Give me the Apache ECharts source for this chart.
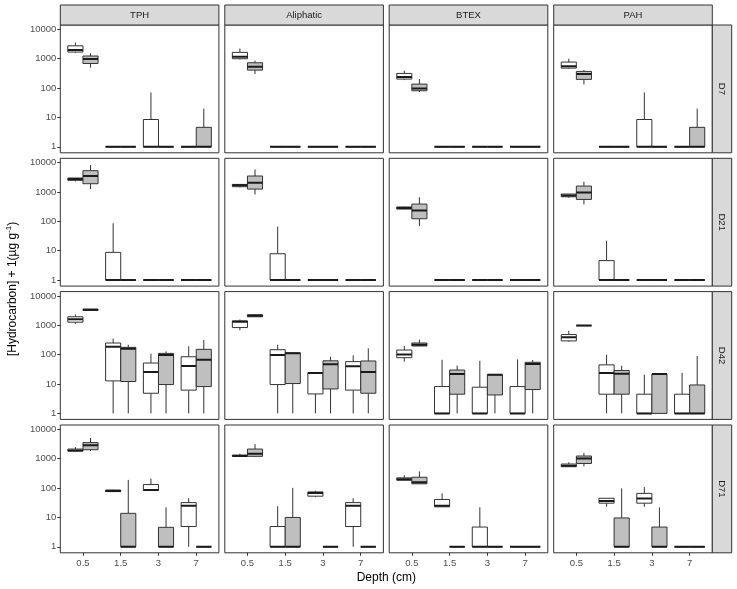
<!DOCTYPE html>
<html>
<head>
<meta charset="utf-8">
<script src="https://cdn.jsdelivr.net/npm/echarts@6/dist/echarts.min.js"></script>
<style>
  html, body { margin: 0; padding: 0; background: #fff; }
  #chart { width: 737px; height: 589px; }
</style>
</head>
<body>
<div id="chart"></div>
<script>
(() => {
  "use strict";

  const depths = ["0.5", "1.5", "3", "7"];
  const fractions = ["TPH", "Aliphatic", "BTEX", "PAH"];
  const days = ["D7", "D21", "D42", "D71"];
  const yTicks = [1, 10, 100, 1000, 10000];

  // each row: [min, q1, median, q3, max] for depth 0.5, 1.5, 3, 7
  const flat = [1, 1, 1, 1, 1];

  const tphD7White = [[1600, 1690, 1990, 2760, 3600], flat, [1, 1, 1, 8.5, 71], flat];
  const tphD7Grey = [[500, 690, 980, 1240, 1520], flat, flat, [1, 1, 1, 4.6, 20]];
  const aliD7White = [[950, 1000, 1170, 1650, 2240], flat, flat, flat];
  const aliD7Grey = [[300, 410, 530, 730, 860], flat, flat, flat];
  const btexD7White = [[187, 203, 237, 316, 390], flat, flat, flat];
  const btexD7Grey = [[73, 81, 97, 137, 203], flat, flat, flat];
  const pahD7White = [[460, 480, 560, 770, 1000], flat, [1, 1, 1, 8.5, 71], flat];
  const pahD7Grey = [[133, 198, 300, 370, 410], flat, flat, [1, 1, 1, 4.6, 20]];

  const tphD21White = [[2300, 2500, 2760, 3000, 3000], [1, 1, 1, 8.8, 86], flat, flat];
  const tphD21Grey = [[1260, 1920, 3520, 5350, 8300], flat, flat, flat];
  const aliD21White = [[1440, 1520, 1700, 1820, 1820], [1, 1, 1, 7.9, 66], flat, flat];
  const aliD21Grey = [[830, 1260, 2080, 3520, 5900], flat, flat, flat];
  const btexD21White = [[260, 263, 284, 310, 315], flat, flat, flat];
  const btexD21Grey = [[69, 123, 237, 390, 660], flat, flat, flat];
  const pahD21White = [[640, 690, 770, 855, 870], [1, 1, 1, 4.6, 22], flat, flat];
  const pahD21Grey = [[380, 560, 970, 1600, 2250], flat, flat, flat];

  const tphD42White = [[1130, 1280, 1620, 1960, 2350], [1, 12.8, 188, 250, 355], [1, 4.85, 25.5, 52, 108], [1, 6.2, 41, 85, 194]];
  const tphD42Grey = [[3220, 3220, 3400, 3550, 3600], [1, 12.2, 160, 178, 220], [1, 9.6, 97, 111, 130], [1, 8.2, 67, 152, 318]];
  const aliD42White = [[680, 840, 1320, 1420, 1580], [1, 9.6, 97, 148, 220], [1, 4.6, 24, 24, 24], [1, 6.2, 40, 58, 95]];
  const aliD42Grey = [[1960, 1960, 2130, 2300, 2410], [1, 10.4, 113, 115, 117], [1, 6.8, 47, 62, 85], [1, 4.85, 25.5, 61, 165]];
  const btexD42White = [[58, 79, 102, 144, 198], [1, 1, 1, 8.2, 67], [1, 1, 1, 7.8, 62], [1, 1, 1, 8.2, 69]];
  const btexD42Grey = [[198, 198, 220, 250, 325], [1, 4.5, 21.8, 30, 43], [1, 4.25, 20.6, 20.6, 20.6], [1, 6.5, 48, 55, 66]];
  const pahD42White = [[280, 295, 390, 485, 650], [1, 4.5, 24, 45, 100], [1, 1, 1, 4.5, 20.6], [1, 1, 1, 4.5, 24]];
  const pahD42Grey = [[960, 970, 980, 990, 1000], [1, 4.5, 22.3, 29, 42], [1, 1, 21.8, 21.8, 21.8], [1, 1, 1, 9.3, 90]];

  const tphD71White = [[1820, 1820, 1910, 2140, 2500], [73, 76, 79, 86, 88], [83, 83, 86, 132, 210], [1, 4.9, 25, 32, 45]];
  const tphD71Grey = [[1820, 2030, 2900, 3550, 5100], [1, 1, 1, 13.8, 190], [1, 1, 1, 4.6, 22], flat];
  const aliD71White = [[1210, 1210, 1240, 1340, 1490], [1, 1, 1, 4.9, 24], [49, 53, 68, 74, 81], [1, 4.9, 25, 32, 45]];
  const aliD71Grey = [[1150, 1210, 1490, 2140, 3150], [1, 1, 1, 10, 102], flat, flat];
  const btexD71White = [[185, 185, 200, 223, 274], [23, 23, 25, 41, 66], [1, 1, 1, 4.7, 22], flat];
  const btexD71Grey = [[140, 140, 158, 234, 370], flat, flat, flat];
  const pahD71White = [[535, 535, 575, 660, 760], [23, 30.6, 36, 45, 45], [23, 30.6, 44, 66, 108], flat];
  const pahD71Grey = [[550, 690, 1020, 1240, 1580], [1, 1, 1, 9.6, 98], [1, 1, 1, 4.7, 22], flat];

  // panels[row][col] = [white, grey]
  const panels = [
    [[tphD7White, tphD7Grey], [aliD7White, aliD7Grey], [btexD7White, btexD7Grey], [pahD7White, pahD7Grey]],
    [[tphD21White, tphD21Grey], [aliD21White, aliD21Grey], [btexD21White, btexD21Grey], [pahD21White, pahD21Grey]],
    [[tphD42White, tphD42Grey], [aliD42White, aliD42Grey], [btexD42White, btexD42Grey], [pahD42White, pahD42Grey]],
    [[tphD71White, tphD71Grey], [aliD71White, aliD71Grey], [btexD71White, btexD71Grey], [pahD71White, pahD71Grey]]
  ];

  const fills = ["#ffffff", "#bfbfbf"];
  const offsets = [-0.2, 0.2];
  const boxW = 0.4;

  const colLeft = [60.3, 224.8, 389.2, 553.7];
  const panelW = 158.6;
  const rowTop = [25, 158.3, 291.6, 425];
  const panelH = 127.8;
  const stripX = colLeft[3] + panelW;
  const stripW = 19.4;
  const font = "'Liberation Sans', Arial, sans-serif";
  const lineColor = "#333333";

  const grids = [];
  const xAxes = [];
  const yAxes = [];
  const series = [];
  const graphics = [];

  function makeRenderer(offset, fill) {
    return function (params, api) {
      const xc = api.value(0) + offset;
      const xl = xc - boxW / 2;
      const xr = xc + boxW / 2;
      const lo = api.value(1);
      const q1 = api.value(2);
      const med = api.value(3);
      const q3 = api.value(4);
      const hi = api.value(5);
      const pTop = api.coord([xc, hi]);
      const pQ3c = api.coord([xc, q3]);
      const pQ1c = api.coord([xc, q1]);
      const pLo = api.coord([xc, lo]);
      const a = api.coord([xl, q3]);
      const b = api.coord([xr, q1]);
      const mL = api.coord([xl, med]);
      const mR = api.coord([xr, med]);
      const stroke = { stroke: lineColor, lineWidth: 1 };
      return {
        type: "group",
        children: [
          { type: "line", shape: { x1: pTop[0], y1: pTop[1], x2: pQ3c[0], y2: pQ3c[1] }, style: stroke },
          { type: "line", shape: { x1: pQ1c[0], y1: pQ1c[1], x2: pLo[0], y2: pLo[1] }, style: stroke },
          {
            type: "rect",
            shape: { x: a[0], y: a[1], width: b[0] - a[0], height: b[1] - a[1] },
            style: { fill: fill, stroke: lineColor, lineWidth: 1 }
          },
          { type: "line", shape: { x1: mL[0], y1: mL[1], x2: mR[0], y2: mR[1] }, style: { stroke: "#1a1a1a", lineWidth: 2 } }
        ]
      };
    };
  }

  days.forEach((day, r) => {
    fractions.forEach((frac, c) => {
      const gi = r * 4 + c;
      grids.push({
        left: colLeft[c],
        top: rowTop[r],
        width: panelW,
        height: panelH,
        show: true,
        borderColor: lineColor,
        borderWidth: 1,
        backgroundColor: "#fff"
      });
      xAxes.push({
        gridIndex: gi,
        type: "value",
        min: 0.4,
        max: 4.6,
        axisLine: { show: false },
        splitLine: { show: false },
        axisTick: {
          show: r === 3,
          customValues: [1, 2, 3, 4],
          length: 3,
          lineStyle: { color: lineColor }
        },
        axisLabel: {
          show: r === 3,
          customValues: [1, 2, 3, 4],
          formatter: (v) => depths[Math.round(v) - 1],
          color: "#4d4d4d",
          fontSize: 9.5,
          fontFamily: font,
          margin: 6
        }
      });
      yAxes.push({
        gridIndex: gi,
        type: "log",
        logBase: 10,
        min: Math.pow(10, -0.205),
        max: Math.pow(10, 4.15),
        axisLine: { show: false },
        splitLine: { show: false },
        minorTick: { show: false },
        axisTick: {
          show: c === 0,
          customValues: yTicks,
          length: 3,
          lineStyle: { color: lineColor }
        },
        axisLabel: {
          show: c === 0,
          customValues: yTicks,
          formatter: (v) => String(Math.round(v)),
          color: "#4d4d4d",
          fontSize: 9.5,
          fontFamily: font,
          margin: 4
        }
      });
      panels[r][c].forEach((values, g) => {
        series.push({
          type: "custom",
          name: frac + " " + day + (g ? " grey" : " white"),
          xAxisIndex: gi,
          yAxisIndex: gi,
          renderItem: makeRenderer(offsets[g], fills[g]),
          encode: { x: 0, y: [1, 2, 3, 4, 5] },
          data: values.map((d, i) => [i + 1].concat(d)),
          clip: true,
          z: 2
        });
      });
    });
  });

  // column strips
  fractions.forEach((frac, c) => {
    graphics.push({
      type: "rect",
      shape: { x: colLeft[c], y: 5, width: panelW, height: rowTop[0] - 5 },
      style: { fill: "#d9d9d9", stroke: lineColor, lineWidth: 1 }
    });
    graphics.push({
      type: "text",
      x: colLeft[c] + panelW / 2,
      y: 5 + (rowTop[0] - 5) / 2,
      style: { text: frac, fill: "#1a1a1a", font: "9.5px " + font, align: "center", verticalAlign: "middle" }
    });
  });

  // row strips
  days.forEach((day, r) => {
    graphics.push({
      type: "rect",
      shape: { x: stripX, y: rowTop[r], width: stripW, height: panelH },
      style: { fill: "#d9d9d9", stroke: lineColor, lineWidth: 1 }
    });
    graphics.push({
      type: "text",
      x: stripX + stripW / 2,
      y: rowTop[r] + panelH / 2,
      rotation: -Math.PI / 2,
      style: { text: day, fill: "#1a1a1a", font: "9.5px " + font, align: "center", verticalAlign: "middle" }
    });
  });

  // axis titles
  graphics.push({
    type: "text",
    x: colLeft[0] + (stripX - colLeft[0]) / 2,
    y: 578,
    style: { text: "Depth (cm)", fill: "#000", font: "12px " + font, align: "center", verticalAlign: "middle" }
  });
  graphics.push({
    type: "text",
    x: 12.5,
    y: (rowTop[0] + rowTop[3] + panelH) / 2,
    rotation: Math.PI / 2,
    style: {
      text: "{a|[Hydrocarbon] + 1(µg g}{s|-1}{a|)}",
      align: "center",
      verticalAlign: "middle",
      rich: {
        a: { fontSize: 12, fontFamily: font, fill: "#000", lineHeight: 16 },
        s: { fontSize: 8, fontFamily: font, fill: "#000", lineHeight: 9, verticalAlign: "top" }
      }
    }
  });

  const chart = echarts.init(document.getElementById("chart"), null, { renderer: "canvas" });
  chart.setOption({
    animation: false,
    backgroundColor: "#fff",
    grid: grids,
    xAxis: xAxes,
    yAxis: yAxes,
    series: series,
    graphic: graphics
  });
})();
</script>
</body>
</html>
